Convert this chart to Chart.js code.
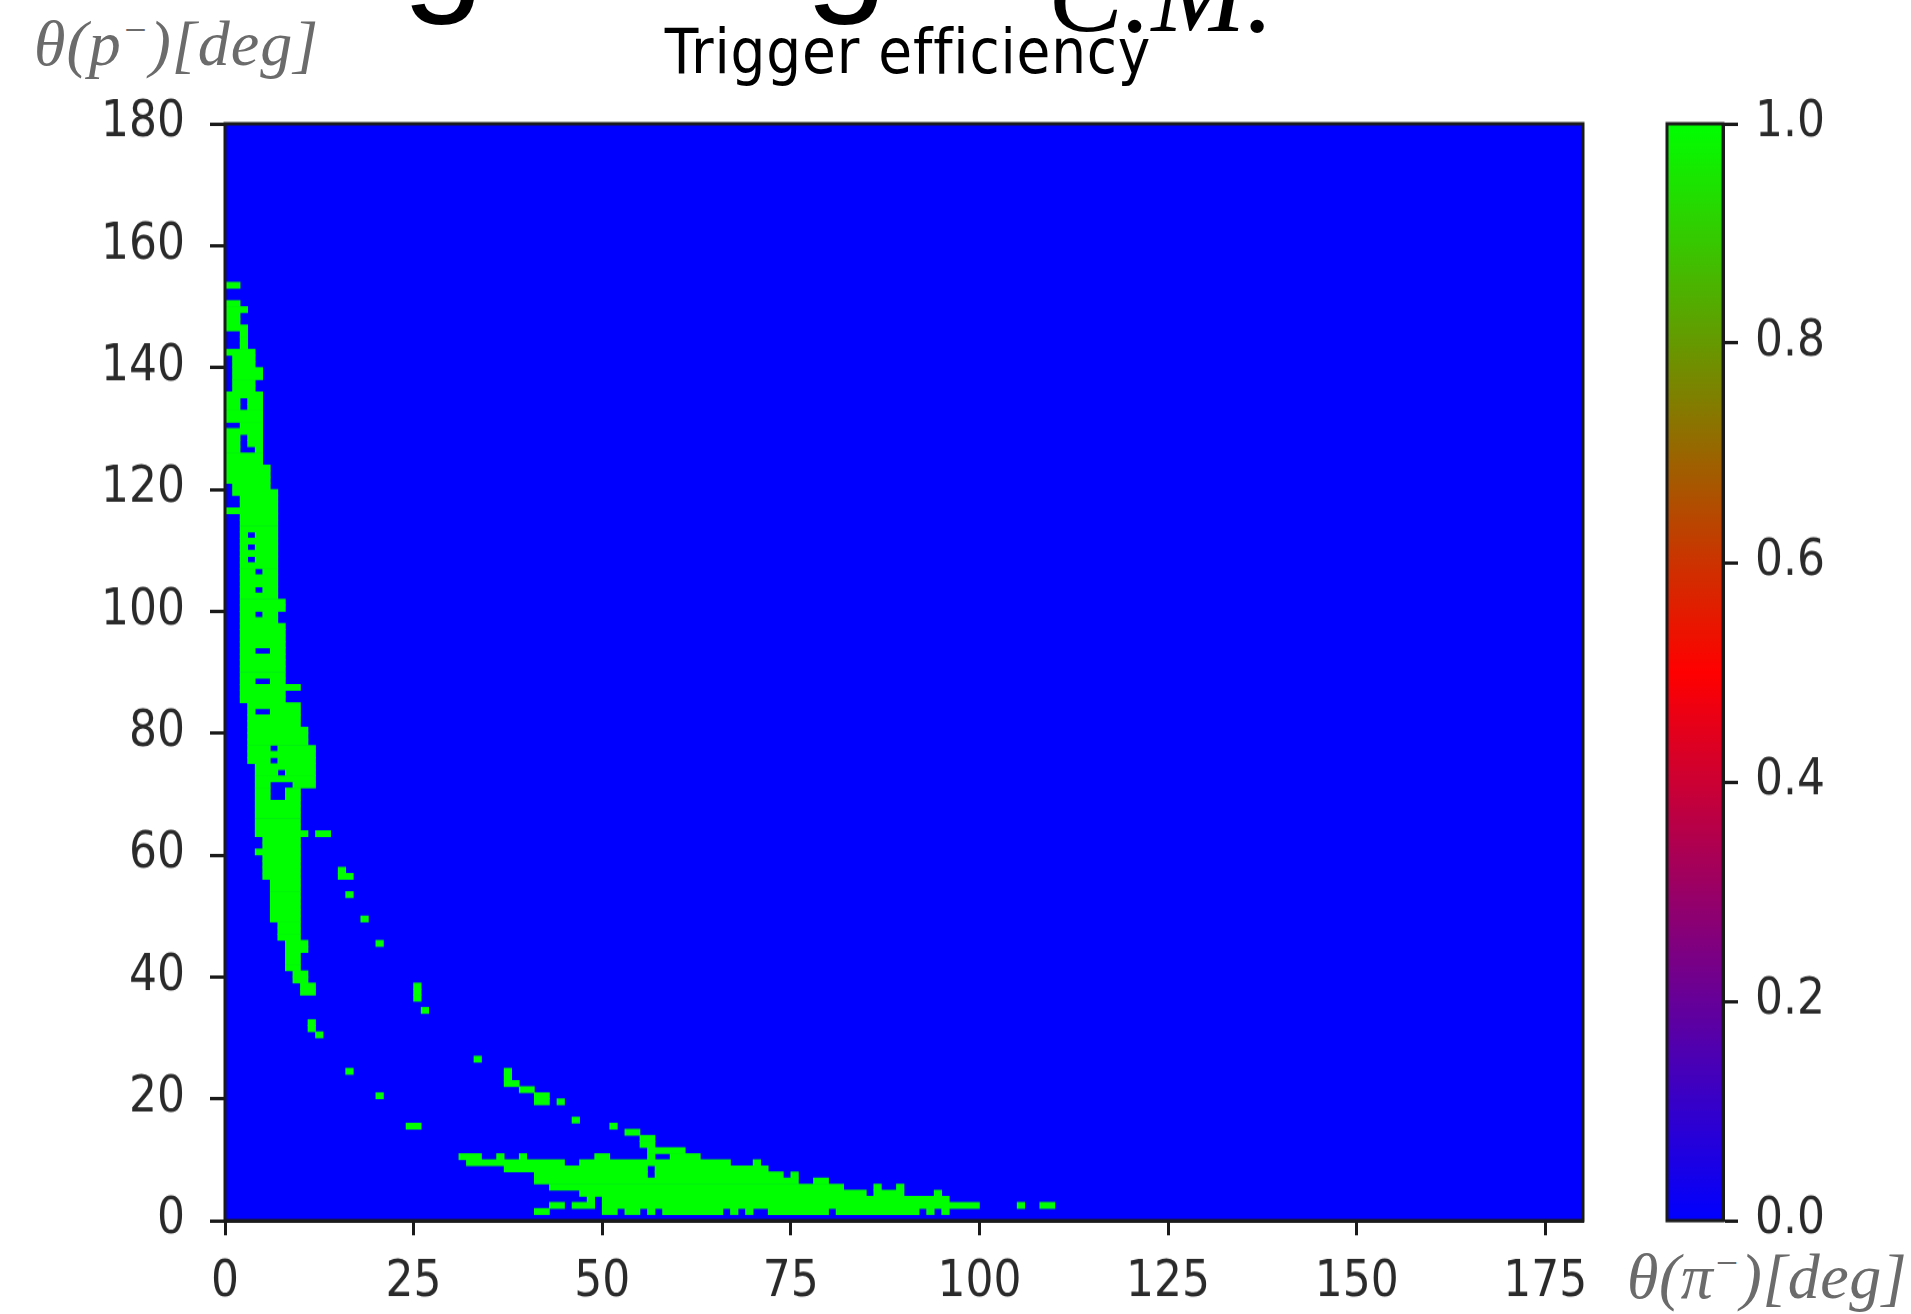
<!DOCTYPE html>
<html lang="en">
<head>
    <meta charset="UTF-8">
    <title>Trigger efficiency</title>
    <script src="https://cdn.jsdelivr.net/npm/chart.js"></script>
    <style>
        body {
            margin: 0;
            width: 1911px;
            height: 1314px;
            overflow: hidden;
            position: relative;
            background: #ffffff;
        }
        /* the reference picture is a little taller than wide, so the plot is stretched */
        .stretch {
            position: absolute;
            top: 0;
            height: 1168px;
            transform: scaleY(1.125);
            transform-origin: 0 0;
        }
        #mainBox { left: 0; width: 1620px; }
        #barBox { left: 1600px; width: 311px; }
        .heading {
            position: absolute;
            white-space: nowrap;
            line-height: 1;
            color: #000;
        }
        .heading.words { left: 188px; top: -142px; font: 148px "Liberation Sans", Arial, sans-serif; }
        .heading.cm { left: 1048px; top: -72px; font: italic 113px "Liberation Serif", serif; }
        .title {
            position: absolute;
            left: 408px;
            top: 21px;
            width: 1000px;
            text-align: center;
            font: 55px "DejaVu Sans", sans-serif;
            letter-spacing: 0.8px;
            line-height: 1;
            color: #000;
            transform: scaleY(1.125);
            transform-origin: 0 0;
        }
        .axisLabel {
            position: absolute;
            white-space: nowrap;
            font: italic 64px "Liberation Serif", serif;
            line-height: 1;
            color: #6b6b6b;
        }
        .axisLabel sup { font-size: 0.62em; vertical-align: 0.55em; line-height: 0; }
        #yLabel { left: 34px; top: 12px; letter-spacing: 1px; }
        #xLabel { left: 1627px; top: 1245px; letter-spacing: 0.5px; }
    </style>
</head>
<body>
    <div class="heading words">Single angle</div>
    <div class="heading cm">C.M.</div>
    <div class="title">Trigger efficiency</div>
    <div class="axisLabel" id="yLabel">θ(p<sup>−</sup>)[deg]</div>
    <div class="axisLabel" id="xLabel">θ(π<sup>−</sup>)[deg]</div>

    <div class="stretch" id="mainBox"><canvas id="effChart"></canvas></div>
    <div class="stretch" id="barBox"><canvas id="barChart"></canvas></div>

    <script>
        // tick values
        const xTicks = [0, 25, 50, 75, 100, 125, 150, 175];
        const yTicks = [0, 20, 40, 60, 80, 100, 120, 140, 160, 180];
        const barTicks = [0.0, 0.2, 0.4, 0.6, 0.8, 1.0];

        // 1 degree bins with efficiency 1 (everything else is 0)
        // steep band near theta(pi-) = 0 : [row, first col, last col]
        const bandRuns = [
            [153,0,1],[150,0,1],[149,0,2],[148,0,1],[147,0,1],[146,0,2],[145,2,2],[144,2,2],[143,2,2],
            [142,0,3],[141,1,3],[140,1,3],[139,1,4],[138,1,4],[137,1,3],[136,1,3],[135,0,4],
            [134,0,1],[134,3,4],[133,0,1],[133,3,4],[132,0,4],[131,0,4],[130,2,4],[129,0,4],
            [128,0,1],[128,3,4],[127,0,1],[127,3,4],[126,0,1],[126,4,4],[125,0,4],[124,0,4],
            [123,0,5],[122,0,5],[121,0,5],[120,1,5],[119,1,6],[118,2,6],[117,2,6],[116,0,6],
            [115,2,6],[114,2,6],[113,2,6],[112,2,2],[112,4,6],[111,2,6],[110,2,2],[110,4,6],
            [109,2,6],[108,2,2],[108,4,6],[107,2,6],[106,2,3],[106,5,6],[105,2,6],[104,2,6],
            [103,2,3],[103,5,6],[102,2,6],[101,2,7],[100,2,7],[99,2,3],[99,5,6],[98,2,6],
            [97,2,7],[96,2,7],[95,2,7],[94,2,7],[93,2,3],[93,6,7],[92,2,7],[91,2,7],[90,2,7],
            [89,2,7],[88,2,3],[88,6,7],[87,2,9],[86,2,7],[85,2,7],[84,3,9],[83,3,3],[83,6,9],
            [82,3,9],[81,3,9],[80,3,10],[79,3,10],[78,3,10],[77,3,5],[77,7,11],[76,3,11],
            [75,3,5],[75,7,11],[74,4,11],[73,4,6],[73,8,11],[72,4,11],[71,4,5],[71,9,11],
            [70,4,5],[70,8,9],[69,4,5],[69,8,9],[68,4,9],[67,4,9],[66,4,9],[65,4,9],[64,4,9],
            [63,4,10],[62,5,9],[61,5,9],[60,4,9],[59,5,9],[58,5,9],[57,5,9],[56,5,9],
            [55,6,9],[54,6,9],[53,6,9],[52,6,9],[51,6,9],[50,6,9],[49,6,9],[48,7,9],[47,7,9],
            [46,7,9],[45,8,10],[44,8,10],[43,8,9],[42,8,9],[41,8,9],[40,9,10],[39,9,10],
            [38,10,11],[37,10,11],[32,11,11],[31,11,11],[30,12,12]
        ];
        // isolated bins between the two bands : [row, first col, last col]
        const strayRuns = [
            [63,12,13],[57,15,15],[56,15,16],[53,16,16],[49,18,18],[45,20,20],
            [38,25,25],[37,25,25],[36,25,25],[34,26,26],[26,33,33],[24,16,16],[24,37,37],
            [23,37,37],[22,37,38],[21,39,40],[20,20,20],[20,41,42],[19,41,42],[19,44,44],
            [16,46,46],[15,24,25],[15,51,51],[14,53,54],[1,41,42],[2,43,44],[2,46,47]
        ];
        // flat band near theta(p-) = 0 : [col, first row, last row]
        const tailCols = [
            [31,10,10],[32,9,10],[33,9,10],[34,9,9],[35,9,9],[36,9,10],[37,8,9],[38,8,9],
            [39,8,10],[40,8,9],[41,6,9],[42,6,9],[43,5,9],[44,5,9],[45,5,8],[46,5,8],[47,4,9],
            [48,2,9],[49,4,10],[50,1,10],[51,1,9],[52,2,9],[53,1,9],[54,1,9],[55,2,9],[55,12,13],
            [56,1,6],[56,9,13],[57,2,9],[57,11,11],[58,1,9],[58,11,11],[59,1,11],[60,1,11],
            [61,1,10],[62,1,10],[63,1,9],[64,1,9],[65,1,9],[66,2,9],[67,1,8],[68,2,8],[69,1,8],
            [70,2,9],[71,2,8],[72,1,7],[73,1,7],[74,1,6],[75,1,7],[76,1,5],[77,1,5],[78,1,6],
            [79,1,6],[80,2,5],[81,1,5],[82,1,4],[83,1,4],[84,1,4],[85,1,3],[86,1,5],[87,1,4],
            [88,1,4],[89,1,5],[90,1,3],[91,1,3],[92,2,3],[93,1,3],[94,2,4],[95,1,3],
            [96,2,2],[97,2,2],[98,2,2],[99,2,2],[105,2,2],[108,2,2],[109,2,2]
        ];

        // matplotlib "brg" colour map
        const brgStops = [[0, [0, 0, 255]], [0.5, [255, 0, 0]], [1, [0, 255, 0]]];
        function brg(v) {
            for (let i = 1; i < brgStops.length; i++) {
                const [p0, c0] = brgStops[i - 1];
                const [p1, c1] = brgStops[i];
                if (v <= p1) {
                    const t = (v - p0) / (p1 - p0);
                    const c = c0.map((a, k) => Math.round(a + (c1[k] - a) * t));
                    return `rgb(${c[0]}, ${c[1]}, ${c[2]})`;
                }
            }
            return 'rgb(0, 255, 0)';
        }

        // collect filled bins, then merge them into horizontal runs per row
        const filled = new Set();
        bandRuns.concat(strayRuns).forEach(([row, a, b]) => {
            for (let c = a; c <= b; c++) filled.add(row * 1000 + c);
        });
        tailCols.forEach(([col, r0, r1]) => {
            for (let r = r0; r <= r1; r++) filled.add(r * 1000 + col);
        });
        const cells = [...filled].sort((p, q) => p - q);
        const runs = [];
        cells.forEach(key => {
            const row = Math.floor(key / 1000), col = key % 1000;
            const last = runs[runs.length - 1];
            if (last && last.row === row && last.end === col) last.end = col + 1;
            else runs.push({ row: row, start: col, end: col + 1 });
        });

        const inkColor = '#1a1a1a';
        const tickFont = { family: 'DejaVu Sans', size: 44 };

        const framePlugin = {
            id: 'frame',
            beforeDatasetsDraw(chart, args, opts) {
                if (!opts.fill) return;
                const a = chart.chartArea;
                chart.ctx.save();
                chart.ctx.fillStyle = opts.fill;
                chart.ctx.fillRect(a.left, a.top, a.right - a.left, a.bottom - a.top);
                chart.ctx.restore();
            },
            afterDraw(chart) {
                const a = chart.chartArea;
                chart.ctx.save();
                chart.ctx.strokeStyle = inkColor;
                chart.ctx.lineWidth = 3;
                chart.ctx.strokeRect(a.left, a.top, a.right - a.left, a.bottom - a.top);
                chart.ctx.restore();
            }
        };

        function axisStyle(tickLength, padding) {
            return {
                grid: { display: true, drawOnChartArea: false, drawTicks: true, tickLength: tickLength, tickWidth: 3, tickColor: inkColor, offset: false },
                border: { display: true, color: inkColor, width: 3 },
                ticks: { font: tickFont, color: '#2a2a2a', padding: padding, autoSkip: false, maxRotation: 0, includeBounds: false }
            };
        }

        new Chart(document.getElementById('effChart'), {
            type: 'bar',
            data: {
                datasets: [{
                    label: 'Trigger efficiency',
                    data: runs.map(r => ({ y: r.row + 0.5, x: [r.start, r.end] })),
                    backgroundColor: brg(1),
                    borderWidth: 0,
                    barPercentage: 1,
                    categoryPercentage: 1
                }]
            },
            options: {
                indexAxis: 'y',
                responsive: true,
                maintainAspectRatio: false,
                animation: false,
                layout: { padding: { top: 110, right: 37, left: 0, bottom: 0 } },
                plugins: {
                    legend: { display: false },
                    tooltip: { enabled: false },
                    frame: { fill: brg(0) }
                },
                scales: {
                    x: Object.assign(axisStyle(13, 16), {
                        type: 'linear', min: 0, max: 180, offset: false,
                        afterBuildTicks: s => { s.ticks = xTicks.map(v => ({ value: v })); },
                        afterFit: s => { s.height = 83; }
                    }),
                    y: Object.assign(axisStyle(15, 25), {
                        type: 'linear', min: 0, max: 180, offset: false,
                        afterBuildTicks: s => { s.ticks = yTicks.map(v => ({ value: v })); },
                        afterFit: s => { s.width = 225; }
                    })
                }
            },
            plugins: [framePlugin]
        });

        // colour bar
        const barAxis = axisStyle(15, 17);
        barAxis.ticks.callback = v => v.toFixed(1);
        new Chart(document.getElementById('barChart'), {
            type: 'bar',
            data: {
                labels: ['efficiency'],
                datasets: [{
                    data: [[0, 1]],
                    backgroundColor: context => {
                        const chart = context.chart;
                        const a = chart.chartArea;
                        if (!a) return brg(0.5);
                        const g = chart.ctx.createLinearGradient(0, a.bottom, 0, a.top);
                        brgStops.forEach(([p]) => g.addColorStop(p, brg(p)));
                        return g;
                    },
                    borderWidth: 0,
                    barPercentage: 1,
                    categoryPercentage: 1
                }]
            },
            options: {
                responsive: true,
                maintainAspectRatio: false,
                animation: false,
                layout: { padding: { top: 110, right: 0, left: 67, bottom: 83 } },
                plugins: { legend: { display: false }, tooltip: { enabled: false } },
                scales: {
                    x: { display: false },
                    y: Object.assign(barAxis, {
                        type: 'linear', position: 'right', min: 0, max: 1, offset: false,
                        afterBuildTicks: s => { s.ticks = barTicks.map(v => ({ value: v })); },
                        afterFit: s => { s.width = 188; }
                    })
                }
            },
            plugins: [framePlugin]
        });
    </script>
</body>
</html>
